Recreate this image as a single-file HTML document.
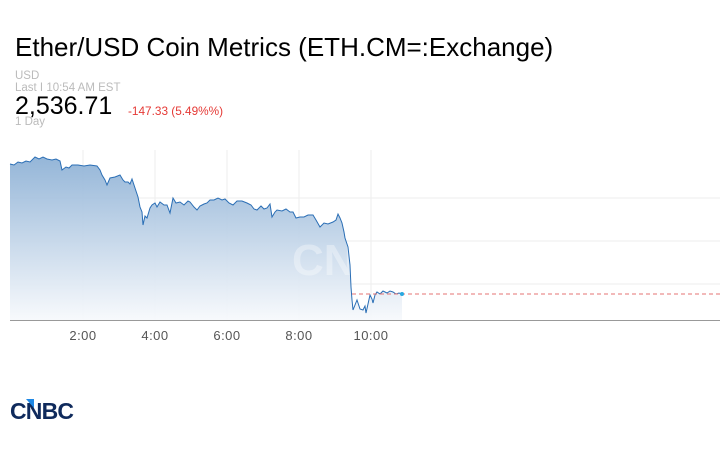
<!DOCTYPE html>
<html><head><style>
body{margin:0;width:720px;height:450px;background:#fff;font-family:"Liberation Sans",sans-serif;overflow:hidden;position:relative}
.t{position:absolute;white-space:nowrap}
</style></head><body>
<div class="t" style="left:15px;top:32px;font-size:26px;color:#000">Ether/USD Coin Metrics (ETH.CM=:Exchange)</div>
<div class="t" style="left:15px;top:70px;font-size:11.5px;color:#bbb">USD</div>
<div class="t" style="left:15px;top:82px;font-size:11.5px;color:#bbb">Last I 10:54 AM EST</div>
<div class="t" style="left:15px;top:92px;font-size:25px;color:#000">2,536.71</div>
<div class="t" style="left:128px;top:104px;font-size:11.8px;color:#e53935">-147.33 (5.49%%)</div>
<div class="t" style="left:15px;top:116px;font-size:11.5px;color:#bbb">1 Day</div>
<svg width="720" height="450" style="position:absolute;left:0;top:0">
<defs><linearGradient id="g" x1="0" y1="0" x2="0" y2="1"><stop offset="0" stop-color="#8fb2d6"/><stop offset="1" stop-color="#f7f9fc"/></linearGradient></defs>
<g stroke="#eeeeee" stroke-width="1">
<line x1="83" y1="150" x2="83" y2="320"/><line x1="155" y1="150" x2="155" y2="320"/><line x1="227" y1="150" x2="227" y2="320"/><line x1="299" y1="150" x2="299" y2="320"/><line x1="371" y1="150" x2="371" y2="320"/>
<line x1="10" y1="198" x2="720" y2="198"/><line x1="10" y1="241" x2="720" y2="241"/><line x1="10" y1="284" x2="720" y2="284"/>
</g>
<path d="M10,164 L14,165 L18,162 L22,163 L26,161 L30,162 L35,157 L39,159 L43,157 L47,159 L52,160 L56,159 L60,161 L62,170 L66,167 L69,168 L72,165 L78,165 L84,166 L90,165 L97,166 L100,170 L102,175 L105,180 L107,185 L110,178 L115,177 L120,175 L123,180 L125,182 L128,182 L130,184 L132,179 L135,188 L138,197 L140,207 L142,212 L143,225 L145,216 L147,218 L150,208 L152,205 L155,203 L157,207 L160,202 L164,205 L167,205 L170,213 L173,198 L176,203 L180,202 L184,205 L188,201 L190,202 L194,207 L197,210 L200,206 L204,204 L207,203 L210,200 L214,200 L218,198 L222,200 L225,199 L229,203 L233,205 L237,201 L242,201 L247,203 L251,205 L254,209 L257,210 L261,206 L264,209 L267,208 L270,204 L272,217 L275,212 L277,210 L282,211 L286,209 L290,212 L293,212 L296,218 L300,217 L304,217 L308,215 L313,215 L316,220 L320,227 L324,223 L328,224 L333,222 L336,220 L338,214 L340,218 L342,223 L344,232 L345,238 L347,244 L348,247 L350,265 L351,287 L352,300 L353,310 L355,305 L357,300 L358,303 L360,309 L363,310 L365,306 L366,313 L368,304 L370,295 L372,299 L373,303 L375,295 L377,292 L380,294 L383,291 L387,293 L390,291 L393,292 L396,294 L399,293 L402,294 L402,320 L10,320 Z" fill="url(#g)" opacity="0.95"/>
<text x="292" y="275" font-size="44" font-weight="bold" fill="#fff" fill-opacity="0.35" font-family="Liberation Sans">CN</text>
<path d="M10,164 L14,165 L18,162 L22,163 L26,161 L30,162 L35,157 L39,159 L43,157 L47,159 L52,160 L56,159 L60,161 L62,170 L66,167 L69,168 L72,165 L78,165 L84,166 L90,165 L97,166 L100,170 L102,175 L105,180 L107,185 L110,178 L115,177 L120,175 L123,180 L125,182 L128,182 L130,184 L132,179 L135,188 L138,197 L140,207 L142,212 L143,225 L145,216 L147,218 L150,208 L152,205 L155,203 L157,207 L160,202 L164,205 L167,205 L170,213 L173,198 L176,203 L180,202 L184,205 L188,201 L190,202 L194,207 L197,210 L200,206 L204,204 L207,203 L210,200 L214,200 L218,198 L222,200 L225,199 L229,203 L233,205 L237,201 L242,201 L247,203 L251,205 L254,209 L257,210 L261,206 L264,209 L267,208 L270,204 L272,217 L275,212 L277,210 L282,211 L286,209 L290,212 L293,212 L296,218 L300,217 L304,217 L308,215 L313,215 L316,220 L320,227 L324,223 L328,224 L333,222 L336,220 L338,214 L340,218 L342,223 L344,232 L345,238 L347,244 L348,247 L350,265 L351,287 L352,300 L353,310 L355,305 L357,300 L358,303 L360,309 L363,310 L365,306 L366,313 L368,304 L370,295 L372,299 L373,303 L375,295 L377,292 L380,294 L383,291 L387,293 L390,291 L393,292 L396,294 L399,293 L402,294"
 fill="none" stroke="#2a6eb5" stroke-width="1"/>
<line x1="352" y1="294" x2="720" y2="294" stroke="#e57373" stroke-width="1" stroke-dasharray="4,3"/>
<circle cx="402" cy="294" r="2" fill="#29a8e0"/>
<line x1="10" y1="320.5" x2="720" y2="320.5" stroke="#999" stroke-width="1"/>
<g font-size="13" fill="#555" text-anchor="middle" font-family="Liberation Sans" letter-spacing="0.5">
<text x="83" y="340">2:00</text><text x="155" y="340">4:00</text><text x="227" y="340">6:00</text><text x="299" y="340">8:00</text><text x="371" y="340">10:00</text>
</g>
<text x="10" y="419" font-size="23" font-weight="bold" fill="#0f2a5c" font-family="Liberation Sans" letter-spacing="-0.8">CNBC</text>
<polygon points="26,399 34,399 34,408" fill="#1e88e5"/>
</svg>
</body></html>
